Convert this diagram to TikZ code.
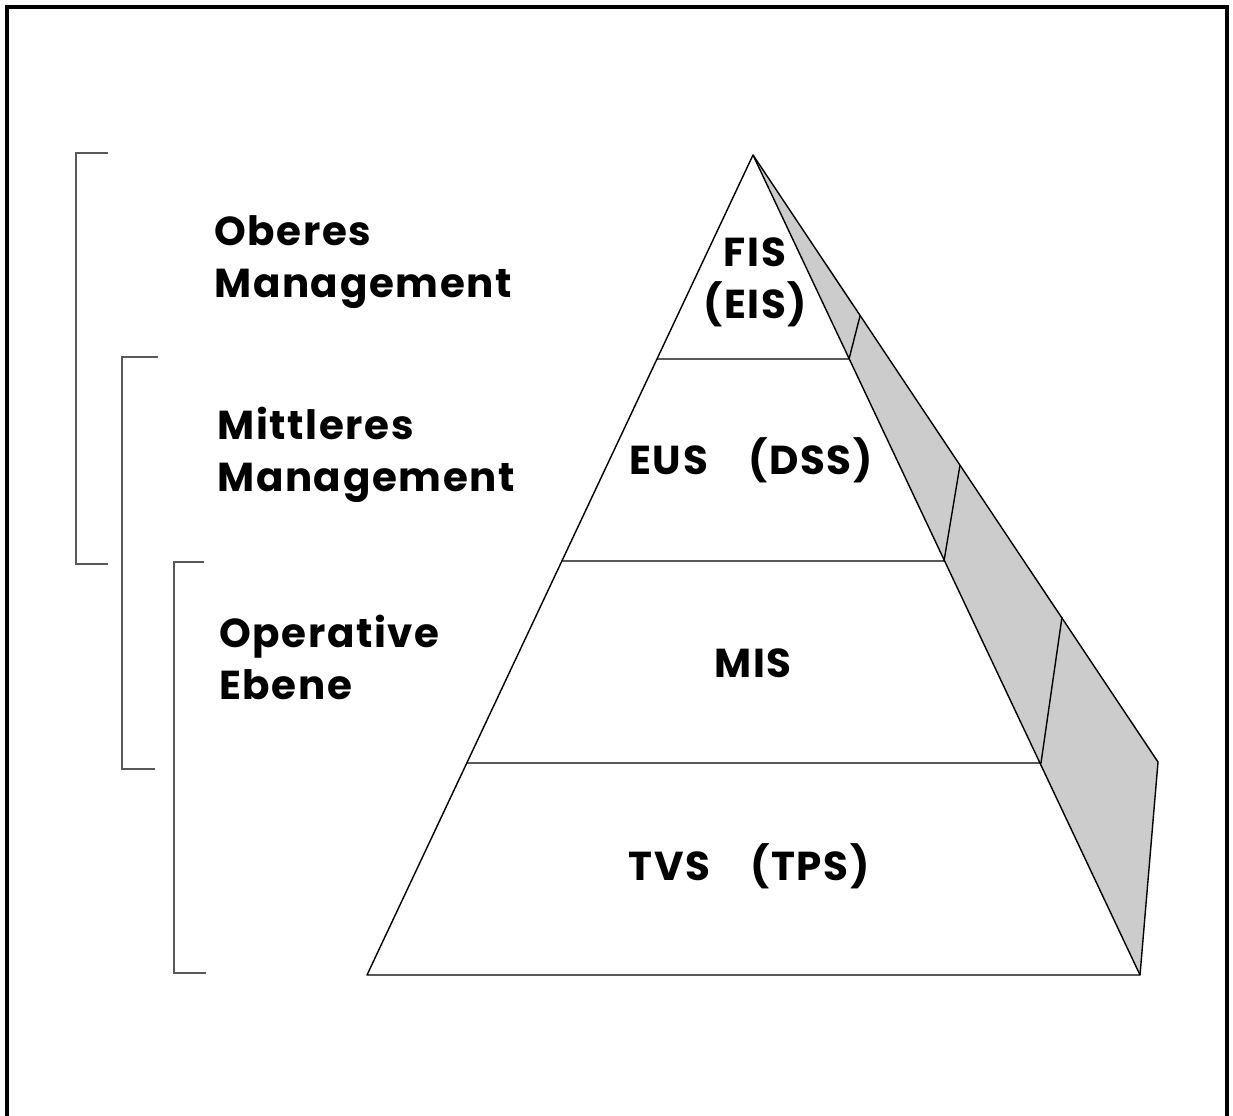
\documentclass[tikz,border=0pt]{standalone}
\usepackage{fontspec}
\newfontfamily\labelfont{Poppins}[LetterSpace=4]
\usetikzlibrary{positioning,calc}

\begin{document}
\begin{tikzpicture}[x=0.02cm, y=-0.02cm,
    lbl/.style={font=\labelfont\bfseries\fontsize{23}{29.5}\selectfont, align=left, anchor=base west, inner sep=0pt},
    tier/.style={font=\labelfont\bfseries\fontsize{23}{29.5}\selectfont, align=center, anchor=base, inner sep=0pt},
    edge/.style={line width=0.8pt, line join=round},
    bracket/.style={line width=0.7pt, black!65}]

    \useasboundingbox (0,0) rectangle (1233,1115);
    % frame, open at the bottom edge
    \draw[line width=1.8pt] (7,1116) -- (7,7) -- (1227,7) -- (1227,1116);

    % pyramid corners
    \coordinate (apex) at (753,155);
    \coordinate (bl) at (367,975);
    \coordinate (br) at (1140,975);
    \coordinate (back) at (1158,762);

    % shaded side face
    \fill[gray!40] (apex) -- (back) -- (br) -- cycle;
    \draw[edge] (apex) -- (bl) -- (br) -- (back) -- cycle;
    \draw[edge] (apex) -- (br);

    % level lines with their side dividers
    \draw[edge] (657,359) -- (849,359) -- (860,316);
    \draw[edge] (562,561) -- (944,561) -- (960,465);
    \draw[edge] (467,763) -- (1041,763) -- (1062,617);

    % brackets
    \draw[bracket] (108,153) -- (76,153) -- (76,564) -- (108,564);
    \draw[bracket] (158,357) -- (122,357) -- (122,769) -- (155,769);
    \draw[bracket] (204,562) -- (174,562) -- (174,973) -- (206,973);

    % level names (base = last line)
    \node[lbl] (oben) at (214,297) {Oberes\\Management};
    \node[lbl] (mitte) at (217,491) {Mittleres\\Management};
    \node[lbl] (operativ) at (219,699) {Operative\\Ebene};

    % systems
    \node[tier] (fis) at (755,318) {FIS\\(EIS)};
    \node[tier] (eus) at (751,474) {EUS\hspace{1em}(DSS)};
    \node[tier] (mis) at (753,677) {MIS};
    \node[tier] (tvs) at (749,880) {TVS\hspace{1em}(TPS)};
\end{tikzpicture}
\end{document}
